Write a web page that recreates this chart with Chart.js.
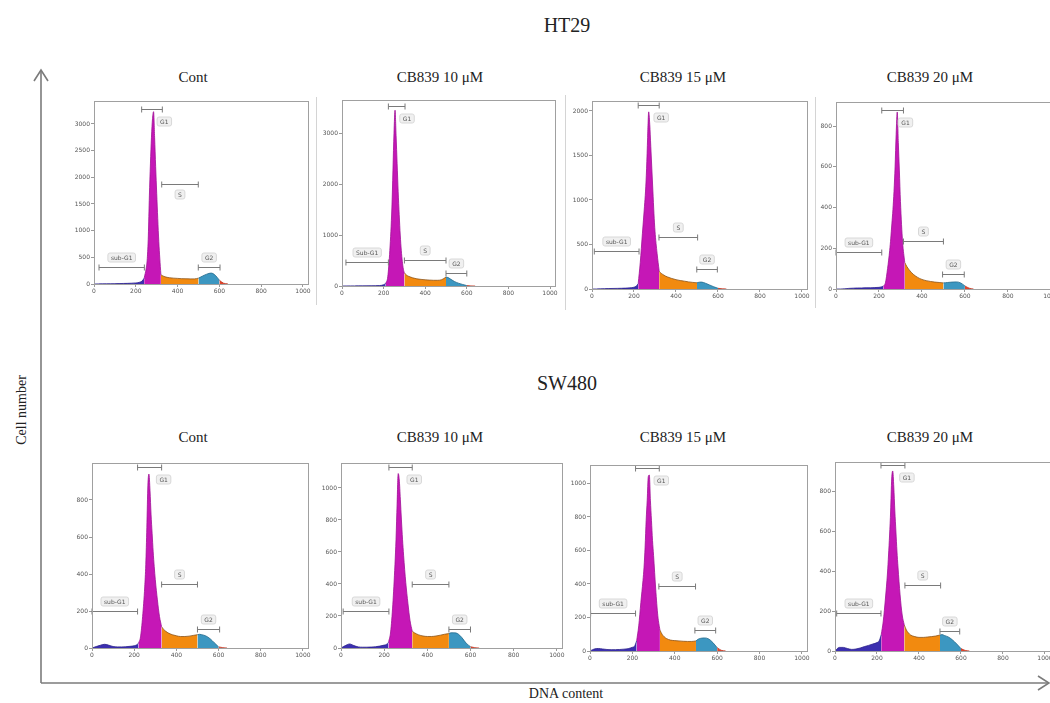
<!DOCTYPE html>
<html>
<head>
<meta charset="utf-8">
<script src="https://cdn.jsdelivr.net/npm/chart.js@4.4.1/dist/chart.umd.min.js"></script>
<style>
  body { margin: 0; width: 1050px; height: 703px; overflow: hidden; background: #fff; position: relative; font-family: "Liberation Serif", "DejaVu Serif", serif; }
  .t { position: absolute; transform: translate(-50%, -50%); white-space: nowrap; color: #222; }
  canvas { position: absolute; }
  svg { position: absolute; left: 0; top: 0; }
</style>
</head>
<body>
<svg width="1050" height="703">
  <g stroke="#d4d4d4" stroke-width="1">
    <line x1="316.5" y1="97" x2="316.5" y2="305" />
    <line x1="565.5" y1="95" x2="565.5" y2="310" />
    <line x1="815.5" y1="97" x2="815.5" y2="308" />
  </g>
  <g stroke="#7b7b7b" stroke-width="1.6" fill="none">
    <line x1="41" y1="683" x2="41" y2="70" />
    <polyline points="34,81 41,70 48,81" />
    <line x1="41" y1="683" x2="1048" y2="683" />
    <polyline points="1038,676 1049,683 1038,690" />
  </g>
</svg>

<div class="t" style="left:567px;top:25px;font-size:20px">HT29</div>
<div class="t" style="left:567px;top:383px;font-size:20px">SW480</div>
<div class="t" style="left:22px;top:410px;font-size:14px;transform:translate(-50%,-50%) rotate(-90deg)">Cell number</div>
<div class="t" style="left:566px;top:694px;font-size:14px">DNA content</div>
<div id="titles"></div>

<script>
// shared channel positions (DNA content, PI area)
const channel = [0, 20, 40, 60, 80, 100, 120, 140, 160, 180,
  200, 210, 220, 230, 240, 250, 255, 260, 265, 270,
  275, 280, 285, 290, 295, 300, 310, 320, 330, 340,
  350, 360, 380, 400, 420, 440, 460, 480, 500, 510,
  520, 540, 560, 580, 600, 620, 640, 660, 700, 1000];

// HT29 histograms (cell counts per channel)
const htCont = [0, 2, 3, 4, 5, 6, 8, 10, 12, 15,
  20, 25, 35, 55, 110, 300, 480, 900, 1650, 2250,
  2750, 3100, 3230, 2750, 2200, 1700, 800, 175, 150, 135,
  125, 118, 110, 105, 100, 98, 96, 96, 110, 130,
  150, 185, 205, 165, 70, 15, 3, 0, 0, 0];
const ht10 = [0, 1, 2, 2, 3, 3, 4, 5, 6, 8,
  25, 50, 180, 700, 1550, 3000, 3450, 2950, 2400, 1850,
  1400, 1000, 700, 480, 330, 255, 215, 190, 175, 160,
  150, 140, 130, 122, 116, 112, 112, 125, 175, 165,
  140, 90, 55, 30, 8, 2, 0, 0, 0, 0];
const ht15 = [0, 0, 2, 4, 5, 6, 7, 8, 10, 13,
  20, 30, 60, 300, 620, 930, 1100, 1350, 1700, 1990,
  1850, 1600, 1350, 1100, 850, 650, 400, 200, 175, 160,
  145, 135, 118, 105, 95, 88, 80, 74, 70, 76,
  78, 65, 45, 25, 8, 2, 0, 0, 0, 0];
const ht20 = [0, 0, 1, 3, 4, 5, 5, 6, 6, 7,
  8, 10, 14, 30, 100, 190, 250, 320, 390, 480,
  600, 760, 870, 720, 580, 430, 230, 130, 110, 95,
  82, 72, 57, 47, 41, 37, 34, 32, 30, 31,
  32, 34, 35, 30, 15, 4, 0, 0, 0, 0];

// SW480 histograms
const swCont = [0, 8, 15, 20, 15, 8, 6, 6, 7, 9,
  12, 16, 25, 60, 170, 330, 450, 650, 880, 940,
  850, 720, 620, 520, 440, 370, 260, 170, 115, 100,
  90, 82, 72, 66, 62, 62, 64, 68, 72, 74,
  72, 65, 50, 28, 6, 2, 0, 0, 0, 0];
const sw10 = [0, 15, 25, 15, 7, 5, 5, 6, 8, 12,
  18, 22, 35, 100, 270, 520, 680, 900, 1090, 1050,
  930, 800, 680, 580, 490, 410, 280, 170, 105, 95,
  88, 82, 75, 72, 72, 75, 80, 86, 90, 95,
  95, 90, 65, 30, 8, 2, 0, 0, 0, 0];
const sw15 = [0, 12, 15, 12, 9, 8, 8, 9, 11, 14,
  22, 28, 60, 150, 290, 420, 500, 620, 780, 900,
  1040, 1050, 900, 780, 660, 570, 370, 210, 125, 100,
  85, 75, 65, 62, 60, 58, 57, 57, 60, 70,
  75, 78, 72, 50, 20, 4, 0, 0, 0, 0];
const sw20 = [0, 18, 18, 12, 8, 10, 15, 22, 28, 35,
  42, 50, 80, 150, 260, 390, 480, 580, 700, 860,
  900, 820, 700, 600, 500, 420, 280, 180, 130, 105,
  90, 80, 72, 68, 68, 70, 72, 75, 80, 82,
  78, 70, 55, 35, 12, 3, 0, 0, 0, 0];

// phase boundaries: sub-G1 | G1 | S | G2 | tail | end of tail
const htBounds = [[240, 320, 500, 600, 640], [210, 300, 500, 600, 640], [220, 320, 500, 600, 640], [220, 320, 500, 600, 640]];
const swBounds = [[220, 330, 500, 600, 640], [220, 330, 500, 600, 640], [220, 330, 500, 600, 640], [220, 330, 500, 600, 640]];

// gates [from, to, level] for sub-G1, G1, S, G2
const htGates = [
  [[24, 241, 319], [228, 327, 3280], [324, 499, 1870], [499, 603, 319]],
  [[19, 223, 476], [223, 303, 3530], [300, 500, 510], [500, 600, 261]],
  [[11, 224, 430], [220, 320, 2067], [319, 503, 588], [499, 597, 221]],
  [[0, 213, 183], [213, 314, 880], [314, 500, 236], [496, 597, 74]]
];
const swGates = [
  [[0, 216, 200], [216, 330, 978], [330, 500, 346], [500, 605, 103]],
  [[10, 222, 233], [222, 330, 1131], [330, 500, 400], [500, 600, 117]],
  [[3, 215, 225], [215, 327, 1090], [325, 498, 390], [495, 593, 125]],
  [[8, 219, 192], [219, 333, 930], [333, 503, 330], [500, 594, 102]]
];
const gateNames = ["sub-G1", "G1", "S", "G2"];
const gateNamesAlt = ["Sub-G1", "G1", "S", "G2"];

const treatments = ["Cont", "CB839 10 μM", "CB839 15 μM", "CB839 20 μM"];
const xTicks = [0, 200, 400, 600, 800, 1000];
const htYTicks = [[0, 500, 1000, 1500, 2000, 2500, 3000], [0, 1000, 2000, 3000], [0, 500, 1000, 1500, 2000], [0, 200, 400, 600, 800]];
const swYTicks = [[0, 200, 400, 600, 800], [0, 200, 400, 600, 800, 1000], [0, 200, 400, 600, 800, 1000], [0, 200, 400, 600, 800]];
const htYMax = [3430, 3650, 2112, 919];
const swYMax = [1000, 1156, 1110, 945];
const xMax = 1024;

// plot boxes on the page: left, top, right, bottom
const boxes = [
  [94, 101, 308, 284], [342, 100, 555, 286], [592, 101, 807, 289], [836, 102, 1056, 289],
  [92, 463, 308, 648], [341, 463, 562, 648], [590, 465, 807, 651], [835, 462, 1050, 651]
];
const titleCenters = [193, 440, 683, 930];

const phaseColors = [
  { fill: "#3b2fb0", line: "#2a1f8c" },
  { fill: "#c517b6", line: "#a00f95" },
  { fill: "#f28a0f", line: "#8c5318" },
  { fill: "#3c97c1", line: "#236a8c" },
  { fill: "#e0452b", line: "#c0341f" }
];

const Y_W = 26, X_H = 14, PAD_T = 10, PAD_R = 6;

function regionData(vals, lo, hi) {
  return channel
    .map((x, i) => ({ x: x, y: vals[i] }))
    .filter((p) => p.x >= lo && p.x <= hi);
}

function gatePlugin(gates, names, sBelow) {
  return {
    id: "gates",
    afterDatasetsDraw(chart) {
      const { ctx } = chart;
      const xs = chart.scales.x, ys = chart.scales.y;
      ctx.save();
      gates.forEach((g, i) => {
        const x1 = xs.getPixelForValue(g[0]);
        const x2 = xs.getPixelForValue(g[1]);
        const yy = Math.round(ys.getPixelForValue(g[2])) + 0.5;
        ctx.strokeStyle = "#7a7a7a";
        ctx.lineWidth = 1;
        ctx.beginPath();
        ctx.moveTo(x1, yy); ctx.lineTo(x2, yy);
        ctx.moveTo(x1, yy - 3); ctx.lineTo(x1, yy + 3);
        ctx.moveTo(x2, yy - 3); ctx.lineTo(x2, yy + 3);
        ctx.stroke();

        let cx = (x1 + x2) / 2, cy = yy - 10;
        if (i === 1) { cx = x2 + 2; cy = yy + 12; }
        else if (i === 2 && sBelow) { cy = yy + 10; }
        ctx.font = '6px "DejaVu Sans"';
        const w = ctx.measureText(names[i]).width + 6, h = 9;
        ctx.fillStyle = "#f0f0f0";
        ctx.strokeStyle = "#d8d8d8";
        ctx.beginPath();
        ctx.roundRect(cx - w / 2, cy - h / 2, w, h, 2);
        ctx.fill();
        ctx.stroke();
        ctx.fillStyle = "#555";
        ctx.textAlign = "center";
        ctx.textBaseline = "middle";
        ctx.fillText(names[i], cx, cy + 0.5);
      });
      ctx.restore();
    }
  };
}

const framePlugin = {
  id: "frame",
  afterDraw(chart) {
    const { ctx, chartArea: a } = chart;
    ctx.save();
    ctx.strokeStyle = "#a0a0a0";
    ctx.lineWidth = 1;
    ctx.strokeRect(Math.round(a.left) + 0.5, Math.round(a.top) + 0.5,
      Math.round(a.right - a.left), Math.round(a.bottom - a.top));
    ctx.restore();
  }
};

const makePanel = (idx, vals, bounds, gates, names, yTicks, yMax, sBelow) => {
  const [l, t, r, b] = boxes[idx];
  const cv = document.createElement("canvas");
  cv.width = (r - l) + Y_W + PAD_R;
  cv.height = (b - t) + PAD_T + X_H;
  cv.style.left = (l - Y_W) + "px";
  cv.style.top = (t - PAD_T) + "px";
  document.body.appendChild(cv);

  const edges = [0, ...bounds];
  const datasets = phaseColors.map((c, k) => ({
    data: regionData(vals, edges[k], edges[k + 1]),
    backgroundColor: c.fill,
    borderColor: c.line,
    borderWidth: 0.8,
    fill: "origin",
    pointRadius: 0,
    cubicInterpolationMode: "monotone"
  }));

  const tickFont = { family: "DejaVu Sans", size: 6 };
  const plain = (v) => String(v);

  new Chart(cv.getContext("2d"), {
    type: "line",
    data: { datasets: datasets },
    options: {
      responsive: false,
      animation: false,
      layout: { padding: { top: PAD_T, right: PAD_R, left: 0, bottom: 0 } },
      plugins: { legend: { display: false }, tooltip: { enabled: false } },
      scales: {
        x: {
          type: "linear",
          min: 0,
          max: xMax,
          afterBuildTicks: (s) => { s.ticks = xTicks.map((v) => ({ value: v })); },
          afterFit: (s) => { s.height = X_H; },
          ticks: { font: tickFont, color: "#555", padding: 1, maxRotation: 0, callback: plain },
          grid: { drawOnChartArea: false, tickLength: 3, color: "#999" },
          border: { display: true, color: "#999" }
        },
        y: {
          type: "linear",
          min: 0,
          max: yMax,
          afterBuildTicks: (s) => { s.ticks = yTicks.map((v) => ({ value: v })); },
          afterFit: (s) => { s.width = Y_W; },
          ticks: { font: tickFont, color: "#555", padding: 1, callback: plain },
          grid: { drawOnChartArea: false, tickLength: 3, color: "#999" },
          border: { display: true, color: "#999" }
        }
      }
    },
    plugins: [gatePlugin(gates, names, sBelow), framePlugin]
  });
};

const ht = [htCont, ht10, ht15, ht20];
const sw = [swCont, sw10, sw15, sw20];

ht.forEach((vals, i) => {
  makePanel(i, vals, htBounds[i], htGates[i], i === 1 ? gateNamesAlt : gateNames, htYTicks[i], htYMax[i], i === 0);
});
sw.forEach((vals, i) => {
  makePanel(i + 4, vals, swBounds[i], swGates[i], gateNames, swYTicks[i], swYMax[i], false);
});

// panel titles
const titles = document.getElementById("titles");
[77, 437].forEach((y) => {
  treatments.forEach((name, i) => {
    titles.insertAdjacentHTML("beforeend",
      `<div class="t" style="left:${titleCenters[i]}px;top:${y}px;font-size:15px">${name}</div>`);
  });
});
</script>
</body>
</html>
